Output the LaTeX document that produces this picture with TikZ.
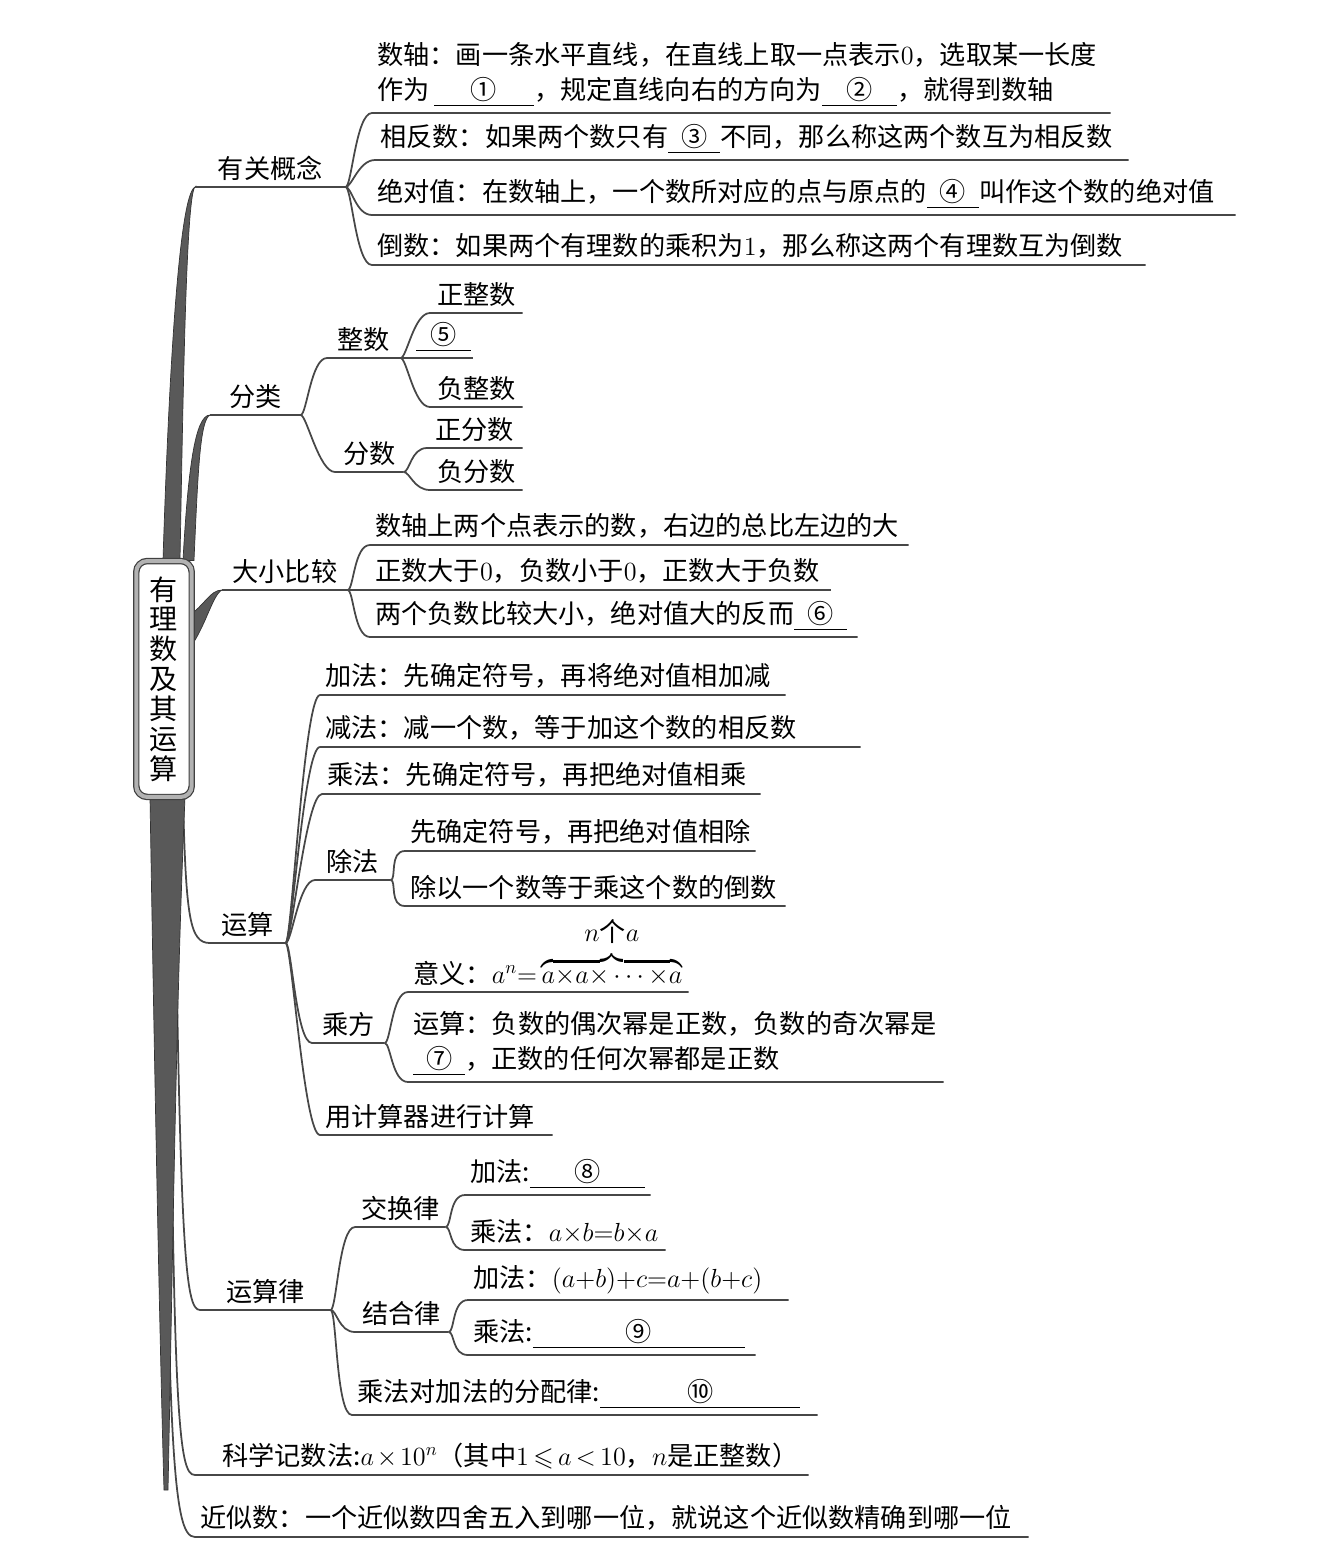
\RequirePackage{fix-cm}
\documentclass[tikz,border=0pt]{standalone}
\usepackage{amsmath,amssymb}
\usepackage{fontspec}
\setmainfont{Noto Sans CJK SC}
\usetikzlibrary{calc, backgrounds}

\newcommand{\tiankong}[2]{\underline{\makebox[#1]{#2}}}
\newcommand{\jinmath}{\medmuskip=2mu\thickmuskip=3mu\relpenalty=10000\binoppenalty=10000}

\begin{document}
\begin{tikzpicture}[
  x=0.02cm, y=-0.02cm,
  font=\fontsize{14.9}{20}\selectfont\jinmath,
  rootbox/.style={
    draw=black!75, double=black!30, double distance=0.08cm, line width=0.7pt,
    fill=white, rounded corners=0.22cm, minimum width=1.11cm, minimum height=4.72cm,
    inner sep=0pt, align=center, font=\fontsize{16}{17}\selectfont,
  },
  tag/.style={anchor=south west, minimum width=#1, inner xsep=0pt, inner ysep=0.12cm},
  leaf/.style={anchor=south west, text width=#1, inner xsep=0.1cm, inner ysep=0.12cm, align=left},
  lnk/.style={draw=black!72, line width=1pt,
    to path={.. controls ($(\tikztostart)+(6,0)$) and ($(\tikztotarget)+(-16,0)$) .. (\tikztotarget)}},
  trunk/.style={fill=black!65, draw=black!80, line width=0.4pt},
]
  \useasboundingbox (0,0) rectangle (1337,1566);

  % Root
  \node[rootbox] (root) at (164,679) {有\\理\\数\\及\\其\\运\\算};

  % 有关概念
  \node[tag=3cm] (gn) at (195,187) {有关概念};
  \node[leaf=14.56cm] (sz) at (372,113) {数轴：画一条水平直线，在直线上取一点表示$0$，选取某一长度\\作为\,\tiankong{2cm}{①}，规定直线向右的方向为\tiankong{1.5cm}{②}，就得到数轴};
  \node[leaf=14.86cm] (xf) at (375,160) {相反数：如果两个数只有\tiankong{1.04cm}{③}不同，那么称这两个数互为相反数};
  \node[leaf=17.06cm] (jd) at (372,215) {绝对值：在数轴上，一个数所对应的点与原点的\tiankong{1.04cm}{④}叫作这个数的绝对值};
  \node[leaf=15.26cm] (ds) at (372,265) {倒数：如果两个有理数的乘积为$1$，那么称这两个有理数互为倒数};

  % 分类
  \node[tag=1.8cm] (fl) at (210,415) {分类};
  \node[tag=1.46cm] (zs) at (327,358) {整数};
  \node[tag=1.84cm] (zzs) at (430,313) {正整数};
  \node[tag=1.44cm] (wu) at (400,358) {\hspace*{0.3cm}\tiankong{1.1cm}{⑤}};
  \node[tag=1.84cm] (fzs) at (430,407) {负整数};
  \node[tag=1.36cm] (fs) at (335,472) {分数};
  \node[tag=1.9cm] (zfs) at (427,448) {正分数};
  \node[tag=1.84cm] (ffs) at (430,490) {负分数};

  % 大小比较
  \node[tag=2.5cm] (dx) at (222,590) {大小比较};
  \node[leaf=10.56cm] (dx1) at (370,545) {数轴上两个点表示的数，右边的总比左边的大};
  \node[leaf=9.0cm] (dx2) at (370,590) {正数大于$0$，负数小于$0$，正数大于负数};
  \node[leaf=9.54cm] (dx3) at (370,637) {两个负数比较大小，绝对值大的反而\tiankong{1.06cm}{⑥}};

  % 运算
  \node[tag=1.5cm] (ys) at (210,943) {运算};
  \node[leaf=9.1cm] (jia) at (320,695) {加法：先确定符号，再将绝对值相加减};
  \node[leaf=10.6cm] (jian) at (320,747) {减法：减一个数，等于加这个数的相反数};
  \node[leaf=8.56cm] (cheng) at (322,794) {乘法：先确定符号，再把绝对值相乘};
  \node[tag=1.5cm] (cf) at (315,880) {除法};
  \node[leaf=6.8cm] (cf1) at (405,851) {先确定符号，再把绝对值相除};
  \node[leaf=7.4cm] (cf2) at (405,906) {除以一个数等于乘这个数的倒数};
  \node[tag=1.44cm] (cfang) at (312,1043) {乘方};
  \node[leaf=5.4cm] (cfang1) at (408,992) {意义：$a^n{=}\overbrace{a{\times}a{\times}\cdots{\times}a}^{\mbox{$n$个$a$}\rule[-0.2cm]{0pt}{0pt}}$};
  \node[leaf=10.5cm] (cfang2) at (408,1082) {运算：负数的偶次幂是正数，负数的奇次幂是\\\tiankong{1.04cm}{⑦}，正数的任何次幂都是正数};
  \node[leaf=4.44cm] (jsq) at (320,1135) {用计算器进行计算};

  % 运算律
  \node[tag=2.6cm] (ysl) at (200,1310) {运算律};
  \node[tag=1.8cm] (jh) at (355,1227) {交换律};
  \node[leaf=3.5cm] (jh1) at (465,1195) {加法:\tiankong{2.3cm}{⑧}};
  \node[leaf=3.8cm] (jh2) at (465,1250) {乘法：$a{\times}b{=}b{\times}a$};
  \node[tag=1.86cm] (jhl) at (355,1332) {结合律};
  \node[leaf=6.2cm] (jhl1) at (468,1300) {加法：$(a{+}b){+}c{=}a{+}(b{+}c)$};
  \node[leaf=5.54cm] (jhl2) at (468,1355) {乘法:\tiankong{4.24cm}{⑨}};
  \node[leaf=9.1cm] (fp) at (352,1415) {乘法对加法的分配律:\tiankong{4cm}{⑩}};

  % 科学记数法, 近似数
  \node[leaf=12.06cm] (kx) at (195,1475) {\hspace*{0.44cm}科学记数法:$a\times10^n$（其中$1\leqslant a<10$，$n$是正整数）};
  \node[leaf=16.46cm] (js) at (195,1537) {近似数：一个近似数四舍五入到哪一位，就说这个近似数精确到哪一位};

  % connectors
  \draw[lnk] (gn.south west) -- (gn.south east);
  \draw[lnk] (gn.south east) to (sz.south west) -- (sz.south east);
  \draw[lnk] (gn.south east) to (xf.south west) -- (xf.south east);
  \draw[lnk] (gn.south east) to (jd.south west) -- (jd.south east);
  \draw[lnk] (gn.south east) to (ds.south west) -- (ds.south east);

  \draw[lnk] (fl.south west) -- (fl.south east);
  \draw[lnk] (fl.south east) to (zs.south west) -- (zs.south east);
  \draw[lnk] (fl.south east) to (fs.south west) -- (fs.south east);
  \draw[lnk] (zs.south east) to (zzs.south west) -- (zzs.south east);
  \draw[lnk] (zs.south east) to (wu.south west) -- (wu.south east);
  \draw[lnk] (zs.south east) to (fzs.south west) -- (fzs.south east);
  \draw[lnk] (fs.south east) to (zfs.south west) -- (zfs.south east);
  \draw[lnk] (fs.south east) to (ffs.south west) -- (ffs.south east);

  \draw[lnk] (dx.south west) -- (dx.south east);
  \draw[lnk] (dx.south east) to (dx1.south west) -- (dx1.south east);
  \draw[lnk] (dx.south east) to (dx2.south west) -- (dx2.south east);
  \draw[lnk] (dx.south east) to (dx3.south west) -- (dx3.south east);

  \draw[lnk] (ys.south east) to (jia.south west) -- (jia.south east);
  \draw[lnk] (ys.south east) to (jian.south west) -- (jian.south east);
  \draw[lnk] (ys.south east) to (cheng.south west) -- (cheng.south east);
  \draw[lnk] (ys.south east) to (cf.south west) -- (cf.south east);
  \draw[lnk] (ys.south east) to (cfang.south west) -- (cfang.south east);
  \draw[lnk] (ys.south east) to (jsq.south west) -- (jsq.south east);
  \draw[lnk] (cf.south east) to (cf1.south west) -- (cf1.south east);
  \draw[lnk] (cf.south east) to (cf2.south west) -- (cf2.south east);
  \draw[lnk] (cfang.south east) to (cfang1.south west) -- (cfang1.south east);
  \draw[lnk] (cfang.south east) to (cfang2.south west) -- (cfang2.south east);

  \draw[lnk] (ysl.south east) to (jh.south west) -- (jh.south east);
  \draw[lnk] (ysl.south east) to (jhl.south west) -- (jhl.south east);
  \draw[lnk] (ysl.south east) to (fp.south west) -- (fp.south east);
  \draw[lnk] (jh.south east) to (jh1.south west) -- (jh1.south east);
  \draw[lnk] (jh.south east) to (jh2.south west) -- (jh2.south east);
  \draw[lnk] (jhl.south east) to (jhl1.south west) -- (jhl1.south east);
  \draw[lnk] (jhl.south east) to (jhl2.south west) -- (jhl2.south east);

  % trunk and thick branches
  \begin{scope}[on background layer]
    \draw[lnk] ([xshift=0.38cm]root.south) .. controls (186,920) and (190,943) .. (ys.south west) -- (ys.south east);
    \draw[lnk] ([xshift=0.2cm]root.south) .. controls (180,1250) and (185,1310) .. (ysl.south west) -- (ysl.south east);
    \draw[lnk] ([xshift=0.1cm]root.south) .. controls (172,1420) and (178,1475) .. (kx.south west) -- (kx.south east);
    \draw[lnk] (root.south) .. controls (166,1450) and (172,1537) .. (js.south west) -- (js.south east);
    \fill[trunk] ([xshift=-0.28cm]root.south) .. controls (155,1100) and (160,1350) .. (164,1490)
      -- (168,1490) .. controls (172,1300) and (176,1000) .. ([xshift=0.42cm]root.south) -- cycle;
    \fill[trunk] ([xshift=-0.02cm]root.north) .. controls (168,400) and (178,195) .. (gn.south west)
      .. controls (186,195) and (183,400) .. ([xshift=0.32cm]root.north) -- cycle;
    \fill[trunk] ([xshift=0.38cm]root.north) .. controls (188,470) and (195,415) .. (fl.south west)
      .. controls (200,420) and (198,470) .. ([xshift=0.6cm]root.north) -- cycle;
    \fill[trunk] ([xshift=-0.1cm,yshift=1.24cm]root.east) .. controls (205,605) and (210,590) .. (dx.south west)
      .. controls (212,595) and (205,630) .. ([xshift=-0.1cm,yshift=0.56cm]root.east) -- cycle;
  \end{scope}

\end{tikzpicture}
\end{document}
